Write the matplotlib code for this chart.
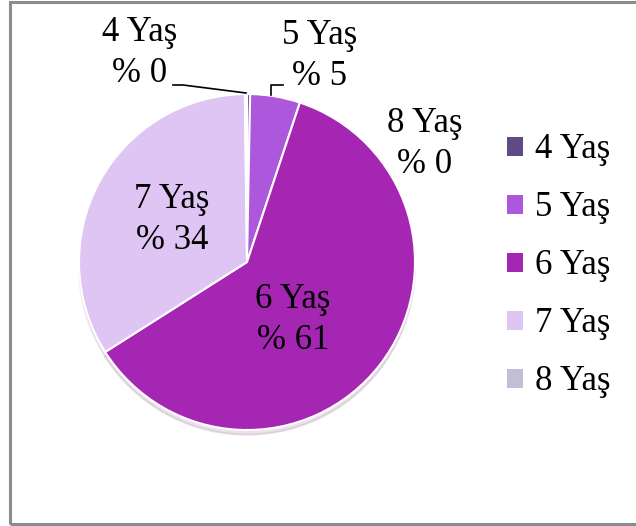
import matplotlib.pyplot as plt
from matplotlib.patches import Patch, Rectangle

# data
labels = ['4 Yaş', '5 Yaş', '6 Yaş', '7 Yaş', '8 Yaş']
values = [0.3, 4.8, 60.9, 33.8, 0.2]
colors = ['#5f4a85', '#ac57dc', '#a626b4', '#dfc5f3', '#c3bdd6']

# label centres in pixels (x, y from top-left) for the slice labels
label_px = [(140, 53), (320, 56), (293, 320), (172, 220), (425, 144)]

plt.rcParams['font.family'] = ['Liberation Serif', 'DejaVu Serif']

W, H = 636, 526
CX, CY, R = 247, 262, 168

def px(x, y):
    # pixel position -> pie data coordinates (radius = 1)
    return (x - CX) / R, (CY - y) / R

fig = plt.figure(figsize=(W / 100, H / 100), dpi=100)
fig.patches.append(Rectangle((9.5 / W, 2 / H), 1.0, 1 - 4 / H, transform=fig.transFigure,
                             fill=False, edgecolor='#8c8c8c', linewidth=2.2))

ax = fig.add_axes([0, 0, 1, 1])
wedges, _ = ax.pie(values, colors=colors, startangle=90, counterclock=False,
                   radius=1, wedgeprops=dict(edgecolor='white', linewidth=1.5),
                   shadow=dict(ox=0, oy=-0.02, shade=0.5, alpha=0.12))

for lab, val, (x, y) in zip(labels, values, label_px):
    ax.text(*px(x, y), f'{lab}\n% {round(val)}', ha='center', va='center',
            fontsize=25, linespacing=1.35, color='black')

# leader lines for the thin slices
lx, ly = zip(px(173, 85), px(183, 85), px(246, 93))
ax.plot(lx, ly, color='black', lw=1.2)
lx, ly = zip(px(283, 85), px(271, 85), px(271, 95))
ax.plot(lx, ly, color='black', lw=1.2)

ax.set_xlim(-CX / R, (W - CX) / R)
ax.set_ylim((CY - H) / R, CY / R)
ax.set_aspect('auto')
ax.axis('off')

handles = [Patch(facecolor=c, edgecolor='none') for c in colors]
fig.legend(handles, labels, loc='center left', bbox_to_anchor=(490 / W, 1 - 266 / H),
           frameon=False, fontsize=25, handlelength=0.46, handleheight=0.46,
           handletextpad=0.35, labelspacing=0.72, borderpad=0)

fig.savefig('out.png', dpi=100)
